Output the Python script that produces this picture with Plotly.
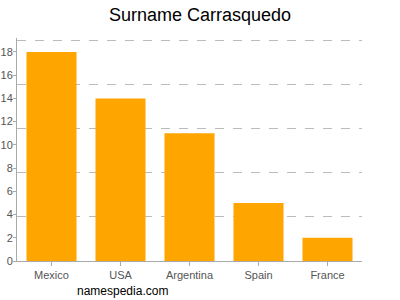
import plotly.graph_objects as go

countries = ["Mexico", "USA", "Argentina", "Spain", "France"]
counts = [18, 14, 11, 5, 2]
y_ticks = [0, 2, 4, 6, 8, 10, 12, 14, 16, 18]
grid_vals = [3.8, 7.6, 11.4, 15.2, 19]

fig = go.Figure()
fig.add_trace(go.Bar(x=countries, y=counts, marker_color="#ffa500", marker_line_width=0))
fig.add_trace(go.Scatter(x=countries, y=[0] * 5, yaxis="y2", mode="markers",
                         marker=dict(opacity=0), hoverinfo="skip", showlegend=False))

fig.update_layout(
    width=400, height=300,
    margin=dict(l=17, r=38, t=38, b=39, autoexpand=False),
    paper_bgcolor="white", plot_bgcolor="white",
    showlegend=False,
    bargap=0.275,
    title=dict(text="Surname Carrasquedo", x=0.5, xanchor="center", y=0.95, yanchor="middle",
               font=dict(family="Liberation Sans, Arial", size=18, color="#000")),
    font=dict(family="Liberation Sans, Arial", size=11, color="#555"),
    xaxis=dict(showline=True, linecolor="#aaa", linewidth=1, ticks="outside", ticklen=4,
               tickcolor="#aaa", tickfont=dict(size=11, color="#555"), showgrid=False,
               automargin=False),
    yaxis=dict(range=[0, 19.2], tickvals=y_ticks, showline=True, linecolor="#aaa", linewidth=1,
               ticks="outside", ticklen=3, tickcolor="#aaa", showgrid=False, zeroline=False,
               ticklabelstandoff=-2,
               tickfont=dict(size=11, color="#555"), automargin=False),
    yaxis2=dict(range=[0, 19.2], overlaying="y", side="right", tickvals=grid_vals,
                showgrid=True, gridcolor="#bbb", griddash="dash", gridwidth=1,
                showticklabels=False, ticks="", zeroline=False, showline=False,
                automargin=False),
    annotations=[dict(text="namespedia.com", xref="paper", yref="paper",
                      x=(75 - 17) / 345, xanchor="left", y=-(291 - 261) / 223,
                      yanchor="middle", showarrow=False,
                      font=dict(family="Liberation Sans, Arial", size=12, color="#000"))],
)
fig.write_html("out.html")
